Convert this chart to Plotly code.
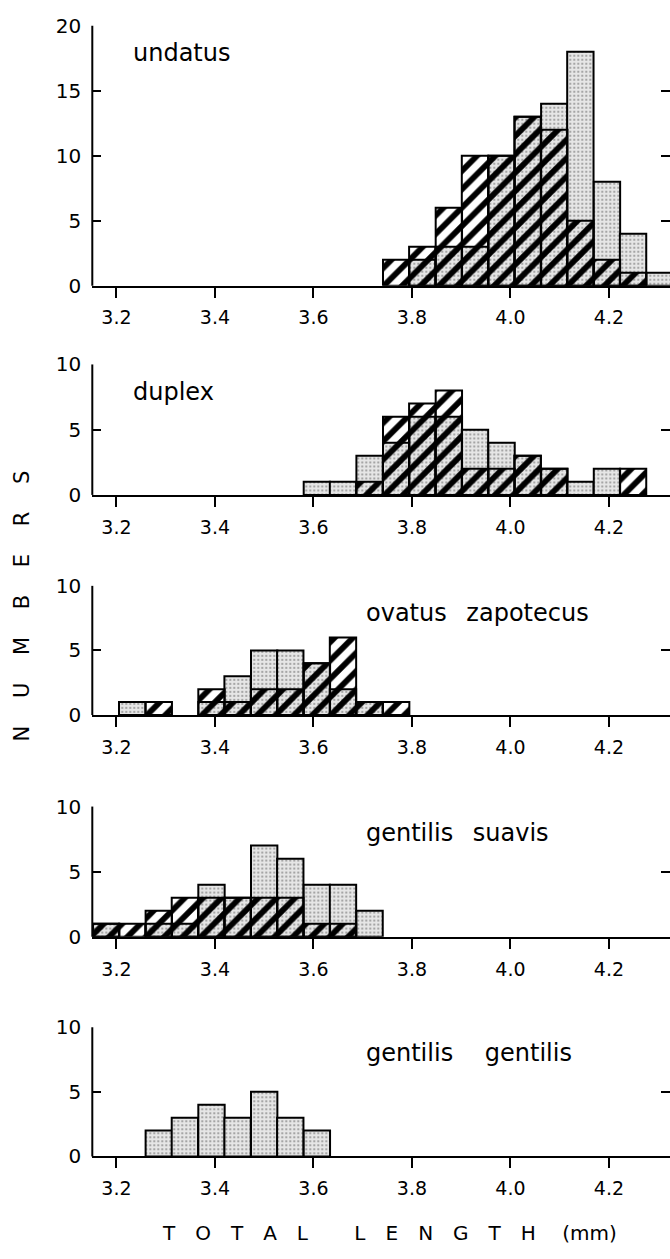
import plotly.graph_objects as go

# ---------------- data ----------------
BIN_CENTERS = [3.179, 3.232, 3.286, 3.339, 3.393, 3.446, 3.500, 3.553, 3.607, 3.660, 3.714,
               3.768, 3.821, 3.875, 3.928, 3.982, 4.035, 4.089, 4.142, 4.196, 4.249, 4.303]
BIN_WIDTH = 0.0535

PANEL_TITLES = ["undatus", "duplex", "ovatus\u2002 zapotecus", "gentilis\u2002 suavis",
                "gentilis\u2003 gentilis"]

undatus_stippled = [0, 0, 0, 0, 0, 0, 0, 0, 0, 0, 0, 0, 2, 3, 3, 10, 13, 14, 18, 8, 4, 1]
undatus_hatched = [0, 0, 0, 0, 0, 0, 0, 0, 0, 0, 0, 2, 3, 6, 10, 10, 13, 12, 5, 2, 1, 0]

duplex_stippled = [0, 0, 0, 0, 0, 0, 0, 0, 1, 1, 3, 4, 6, 6, 5, 4, 3, 2, 1, 2, 0, 0]
duplex_hatched = [0, 0, 0, 0, 0, 0, 0, 0, 0, 0, 1, 6, 7, 8, 2, 2, 3, 2, 0, 0, 2, 0]

ovatus_stippled = [0, 1, 0, 0, 1, 3, 5, 5, 4, 2, 1, 0, 0, 0, 0, 0, 0, 0, 0, 0, 0, 0]
ovatus_hatched = [0, 0, 1, 0, 2, 1, 2, 2, 4, 6, 1, 1, 0, 0, 0, 0, 0, 0, 0, 0, 0, 0]

suavis_stippled = [1, 0, 1, 1, 4, 3, 7, 6, 4, 4, 2, 0, 0, 0, 0, 0, 0, 0, 0, 0, 0, 0]
suavis_hatched = [1, 1, 2, 3, 3, 3, 3, 3, 1, 1, 0, 0, 0, 0, 0, 0, 0, 0, 0, 0, 0, 0]

gentilis_stippled = [0, 0, 2, 3, 4, 3, 5, 3, 2, 0, 0, 0, 0, 0, 0, 0, 0, 0, 0, 0, 0, 0]
gentilis_hatched = [0] * 22

STIPPLED = [undatus_stippled, duplex_stippled, ovatus_stippled, suavis_stippled, gentilis_stippled]
HATCHED = [undatus_hatched, duplex_hatched, ovatus_hatched, suavis_hatched, gentilis_hatched]

Y_MAX = [20, 10, 10, 10, 10]
Y_TICKS = [[0, 5, 10, 15, 20], [0, 5, 10], [0, 5, 10], [0, 5, 10], [0, 5, 10]]
X_TICKS = [3.2, 3.4, 3.6, 3.8, 4.0, 4.2]
X_RANGE = [3.151, 4.324]

# ---------------- layout geometry ----------------
W, H = 670, 1259
PANEL_PX = [(14, 279), (359.3, 492.3), (585, 716.7), (810, 942.7), (1035, 1166.7)]  # (top, baseline)
X_LEFT_PX = 92.3
TITLE_POS = [(0.067, 0.894), (0.067, 0.79), (0.47, 0.79), (0.47, 0.80), (0.47, 0.80)]

FONT = "DejaVu Sans"

fig = go.Figure()
layout = dict(
    width=W, height=H, margin=dict(l=0, r=0, t=0, b=0),
    paper_bgcolor="white", plot_bgcolor="white",
    showlegend=False, barmode="overlay",
    font=dict(family=FONT, color="black"),
)
shapes = []
annotations = []

for k in range(5):
    xa = "x" if k == 0 else f"x{k+1}"
    ya = "y" if k == 0 else f"y{k+1}"
    top, base = PANEL_PX[k]

    xs = [c for c, v in zip(BIN_CENTERS, STIPPLED[k]) if v > 0]
    ys = [v for v in STIPPLED[k] if v > 0]
    if xs:
        fig.add_trace(go.Bar(
            x=xs, y=ys, width=BIN_WIDTH, xaxis=xa, yaxis=ya,
            marker=dict(color="#e6e6e6",
                        line=dict(color="black", width=2),
                        pattern=dict(shape=".", fgcolor="#444444", bgcolor="#e6e6e6",
                                     size=4, solidity=0.24)),
        ))
    xh = [c for c, v in zip(BIN_CENTERS, HATCHED[k]) if v > 0]
    yh = [v for v in HATCHED[k] if v > 0]
    if xh:
        fig.add_trace(go.Bar(
            x=xh, y=yh, width=BIN_WIDTH, xaxis=xa, yaxis=ya,
            marker=dict(color="rgba(0,0,0,0)",
                        line=dict(color="black", width=2),
                        pattern=dict(shape="/", fgcolor="black", bgcolor="rgba(0,0,0,0)",
                                     fgopacity=1, size=13, solidity=0.45)),
        ))

    xkey = "xaxis" if k == 0 else f"xaxis{k+1}"
    ykey = "yaxis" if k == 0 else f"yaxis{k+1}"
    layout[xkey] = dict(
        domain=[X_LEFT_PX / W, 1.0], anchor=ya, range=X_RANGE,
        showline=True, linecolor="black", linewidth=2,
        ticks="outside", ticklen=10, tickwidth=2, tickcolor="black",
        tickvals=X_TICKS, tickformat=".1f", showgrid=False, zeroline=False,
        tickfont=dict(size=19, family=FONT, color="black"),
        ticklabelstandoff=4, fixedrange=True,
    )
    layout[ykey] = dict(
        domain=[1 - base / H, 1 - top / H], anchor=xa, range=[0, Y_MAX[k]],
        showline=False, mirror="ticks",
        ticks="inside", ticklen=9, tickwidth=2, tickcolor="black",
        tickvals=Y_TICKS[k], showgrid=False, zeroline=False,
        tickfont=dict(size=20, family=FONT, color="black"),
        ticklabelstandoff=10, fixedrange=True,
    )
    # left axis line
    shapes.append(dict(type="line", xref=f"{xa} domain", yref=f"{ya} domain",
                       x0=0, x1=0, y0=0, y1=1, line=dict(color="black", width=2)))
    tx, ty = TITLE_POS[k]
    annotations.append(dict(text=PANEL_TITLES[k], xref=f"{xa} domain", yref=f"{ya} domain",
                            x=tx, y=ty, xanchor="left", yanchor="middle", showarrow=False,
                            font=dict(size=24, family=FONT, color="black")))

annotations.append(dict(text="N\u2003 U\u2003 M\u2003 B\u2003 E\u2003 R\u2003 S",
                        xref="paper", yref="paper", x=22 / W, y=1 - 606 / H,
                        textangle=-90, showarrow=False, xanchor="center", yanchor="middle",
                        font=dict(size=21, family=FONT, color="black")))
annotations.append(dict(text="T\u2003O\u2003T\u2003A\u2003L\u2003\u2003 L\u2003E\u2003N\u2003G\u2003T\u2003H\u2003 (mm)",
                        xref="paper", yref="paper", x=160 / W, y=1 - 1245 / H,
                        showarrow=False, xanchor="left", yanchor="middle",
                        font=dict(size=20, family=FONT, color="black")))

layout["shapes"] = shapes
layout["annotations"] = annotations
fig.update_layout(**layout)
fig.write_html("out.html")
